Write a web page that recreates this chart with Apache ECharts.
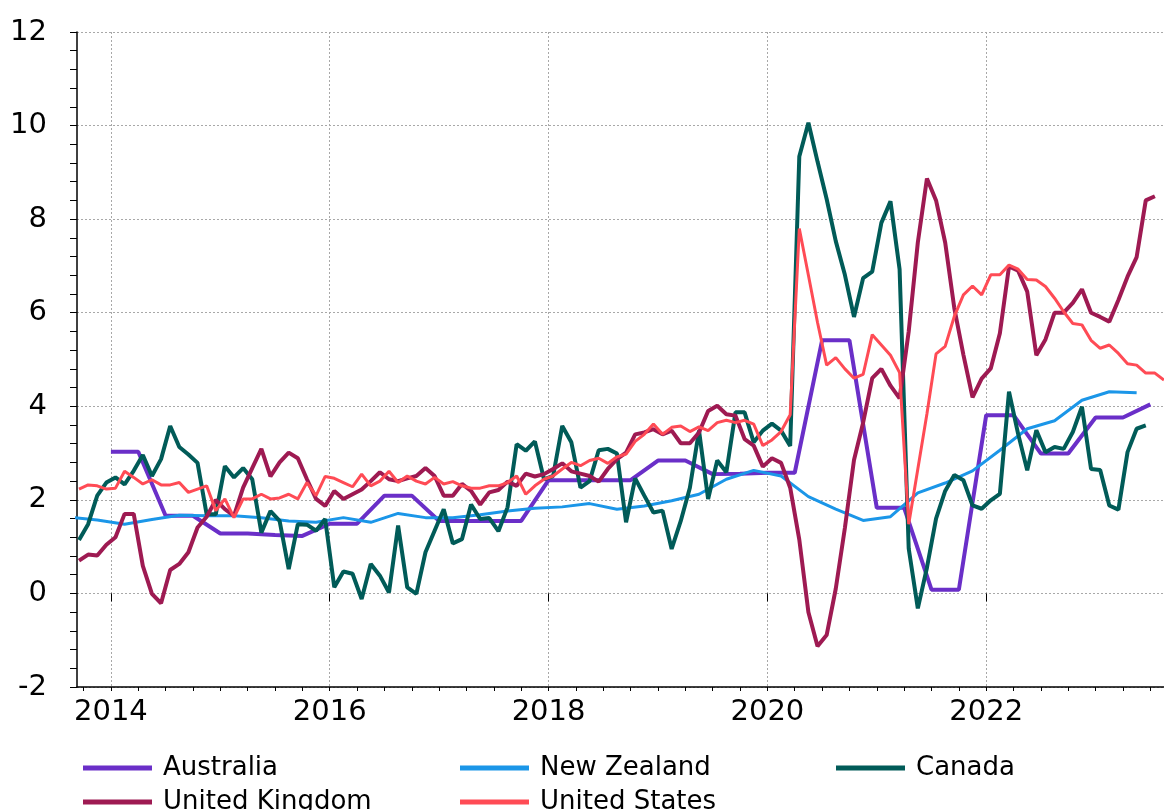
<!DOCTYPE html>
<html>
<head>
<meta charset="utf-8">
<title>index</title>
<style>
  html, body { margin: 0; padding: 0; background: #fff; }
  #container { width: 1164px; height: 810px; }
</style>
</head>
<body>
<div id="container"></div>
<script src="https://cdn.jsdelivr.net/npm/echarts@6/dist/echarts.min.js"></script>
<script>
// monthly series start in September 2013, points sit mid-month
var monthStartYear = 2013, monthStartMonth = 9;

var canada = [1.14, 1.48, 2.09, 2.37, 2.48, 2.33, 2.62, 2.96, 2.51, 2.87, 3.58, 3.13,
  2.97, 2.79, 1.69, 1.69, 2.72, 2.48, 2.68, 2.44, 1.30, 1.76, 1.55, 0.52,
  1.48, 1.47, 1.34, 1.59, 0.13, 0.47, 0.42, -0.12, 0.63, 0.38, 0.02, 1.45,
  0.13, -0.01, 0.88, 1.34, 1.80, 1.07, 1.16, 1.90, 1.59, 1.61, 1.33, 1.84,
  3.19, 3.05, 3.25, 2.44, 2.51, 3.58, 3.23, 2.26, 2.40, 3.06, 3.09, 2.99,
  1.52, 2.46, 2.09, 1.73, 1.77, 0.95, 1.55, 2.26, 3.48, 2.02, 2.84, 2.59,
  3.87, 3.87, 3.23, 3.48, 3.63, 3.48, 3.15, 9.34, 10.06, 9.23, 8.43, 7.53,
  6.81, 5.91, 6.74, 6.88, 7.92, 8.38, 6.93, 0.96, -0.32, 0.55, 1.60, 2.19,
  2.53, 2.42, 1.88, 1.81, 1.99, 2.13, 4.31, 3.41, 2.63, 3.49, 3.02, 3.13,
  3.09, 3.45, 3.99, 2.66, 2.64, 1.88, 1.79, 3.02, 3.52, 3.59];

var uk = [0.70, 0.83, 0.81, 1.04, 1.20, 1.70, 1.70, 0.59, -0.01, -0.21, 0.50, 0.63,
  0.88, 1.41, 1.64, 2.00, 1.80, 1.66, 2.26, 2.68, 3.09, 2.50, 2.80, 3.01,
  2.89, 2.44, 2.02, 1.87, 2.19, 2.02, 2.12, 2.22, 2.40, 2.59, 2.44, 2.40,
  2.46, 2.51, 2.68, 2.51, 2.09, 2.09, 2.34, 2.19, 1.90, 2.16, 2.21, 2.39,
  2.30, 2.56, 2.50, 2.55, 2.66, 2.78, 2.61, 2.56, 2.51, 2.39, 2.66, 2.87,
  3.01, 3.40, 3.44, 3.51, 3.40, 3.48, 3.21, 3.21, 3.44, 3.90, 4.01, 3.83,
  3.80, 3.30, 3.16, 2.71, 2.89, 2.79, 2.26, 1.15, -0.40, -1.13, -0.89, 0.10,
  1.40, 2.85, 3.65, 4.60, 4.80, 4.44, 4.17, 5.60, 7.50, 8.87, 8.40, 7.50,
  6.10, 5.10, 4.19, 4.59, 4.81, 5.56, 6.99, 6.90, 6.45, 5.09, 5.43, 6.00,
  6.00, 6.21, 6.50, 6.00, 5.91, 5.81, 6.27, 6.77, 7.19, 8.40, 8.49];

var us = [2.23, 2.32, 2.30, 2.23, 2.25, 2.61, 2.48, 2.34, 2.43, 2.32, 2.32, 2.37,
  2.16, 2.23, 2.30, 1.77, 2.02, 1.62, 2.02, 2.02, 2.12, 2.02, 2.04, 2.12,
  2.02, 2.37, 2.09, 2.50, 2.46, 2.37, 2.28, 2.55, 2.30, 2.40, 2.61, 2.37,
  2.51, 2.40, 2.34, 2.48, 2.34, 2.39, 2.30, 2.25, 2.25, 2.30, 2.30, 2.37,
  2.51, 2.12, 2.30, 2.44, 2.51, 2.66, 2.80, 2.73, 2.84, 2.89, 2.78, 2.92,
  2.98, 3.25, 3.40, 3.62, 3.40, 3.55, 3.58, 3.46, 3.56, 3.48, 3.65, 3.70,
  3.65, 3.70, 3.62, 3.16, 3.28, 3.46, 3.82, 7.80, 6.80, 5.79, 4.88, 5.04,
  4.80, 4.60, 4.68, 5.53, 5.31, 5.09, 4.72, 1.48, 2.66, 3.84, 5.12, 5.28,
  5.92, 6.38, 6.57, 6.38, 6.81, 6.81, 7.02, 6.93, 6.71, 6.70, 6.56, 6.31,
  6.02, 5.77, 5.74, 5.41, 5.24, 5.31, 5.13, 4.91, 4.88, 4.71, 4.71, 4.56];

// quarterly series
var nzStart = 2013.625; // mid-August 2013, then every quarter
var newZealand = [1.63, 1.57, 1.48, 1.58, 1.67, 1.66, 1.66, 1.62, 1.55, 1.52,
  1.62, 1.52, 1.71, 1.62, 1.62, 1.68, 1.76, 1.82, 1.85, 1.92, 1.80, 1.87,
  1.98, 2.12, 2.44, 2.63, 2.51, 2.07, 1.80, 1.56, 1.64, 2.15, 2.36, 2.62,
  3.06, 3.52, 3.69, 4.13, 4.31, 4.29];

var ausStart = 2014.0; // start of each quarter from Jan 2014
var australia = [3.03, 3.03, 1.66, 1.66, 1.28, 1.28, 1.25, 1.23, 1.49, 1.49,
  2.09, 2.09, 1.55, 1.55, 1.55, 1.55, 2.42, 2.42, 2.42, 2.42, 2.84, 2.84,
  2.55, 2.56, 2.58, 2.58, 5.41, 5.41, 1.83, 1.83, 0.08, 0.08, 3.81, 3.81,
  2.99, 2.99, 3.76, 3.76, 4.04];

var yearLabels = [2014, 2016, 2018, 2020, 2022];
var xMin = 2013.69, xMax = 2023.625;

function monthly(values) {
  return values.map(function (v, i) {
    return [monthStartYear + (monthStartMonth - 1 + i + 0.5) / 12, v];
  });
}
function quarterly(start, values) {
  return values.map(function (v, i) { return [start + i * 0.25, v]; });
}

var quarterTicks = [];
for (var q = Math.ceil(xMin * 4) / 4; q <= xMax; q += 0.25) quarterTicks.push(q);

var names = ['Australia', 'New Zealand', 'Canada', 'United Kingdom', 'United States'];
var colors = ['#6a2fc8', '#1b96e8', '#015b58', '#9e1a52', '#ff4b55'];
var widths = [4, 3, 4, 4, 3];
var seriesData = [
  quarterly(ausStart, australia),
  quarterly(nzStart, newZealand),
  monthly(canada),
  monthly(uk),
  monthly(us)
];
var legendPos = [[83, 749], [460, 749], [836, 749], [83, 783], [460, 783]];

var font = 'DejaVu Sans';
var grid = '#a8a8a8';

var option = {
  animation: false,
  backgroundColor: '#fff',
  grid: { left: 77, right: 0, top: 32, bottom: 123, containLabel: false },
  xAxis: [{
    type: 'value', min: xMin, max: xMax, position: 'bottom',
    axisLine: { show: true, onZero: false, lineStyle: { color: '#000', width: 1.5 } },
    axisTick: { show: true, customValues: quarterTicks, length: 4, lineStyle: { color: '#000', width: 1 } },
    axisLabel: { show: false },
    splitLine: { show: false }
  }, {
    type: 'value', min: xMin, max: xMax, position: 'bottom',
    axisLine: { show: false },
    axisTick: { show: true, customValues: yearLabels, length: 8, lineStyle: { color: '#000', width: 1 } },
    axisLabel: {
      show: true, customValues: yearLabels, margin: 11,
      color: '#000', fontFamily: font, fontSize: 29,
      formatter: function (v) { return String(Math.round(v)); }
    },
    splitLine: { show: true, lineStyle: { color: grid, type: [2, 2], width: 1 } }
  }],
  yAxis: {
    type: 'value', min: -2, max: 12, interval: 2,
    axisLine: { show: true, lineStyle: { color: '#000', width: 1.5 } },
    axisTick: { show: true, length: 7, lineStyle: { color: '#000' } },
    minorTick: { show: true, splitNumber: 5, length: 7, lineStyle: { color: '#000' } },
    axisLabel: { color: '#000', fontFamily: font, fontSize: 29, margin: 30 },
    splitLine: { show: true, lineStyle: { color: grid, type: [2, 2], width: 1 } }
  },
  legend: names.map(function (n, i) {
    return {
      data: [n], left: legendPos[i][0], top: legendPos[i][1], padding: 0,
      icon: 'rect', itemWidth: 69, itemHeight: 5, selectedMode: false,
      textStyle: { color: '#000', fontFamily: font, fontSize: 26, lineHeight: 30, padding: [0, 0, 8, 6] }
    };
  }),
  series: names.map(function (n, i) {
    return {
      name: n, type: 'line', data: seriesData[i], xAxisIndex: 0,
      showSymbol: false, symbol: 'none', smooth: false,
      itemStyle: { color: colors[i] },
      lineStyle: { color: colors[i], width: widths[i] }
    };
  })
};

var myChart = echarts.init(document.getElementById('container'));
myChart.setOption(option);
</script>
</body>
</html>
